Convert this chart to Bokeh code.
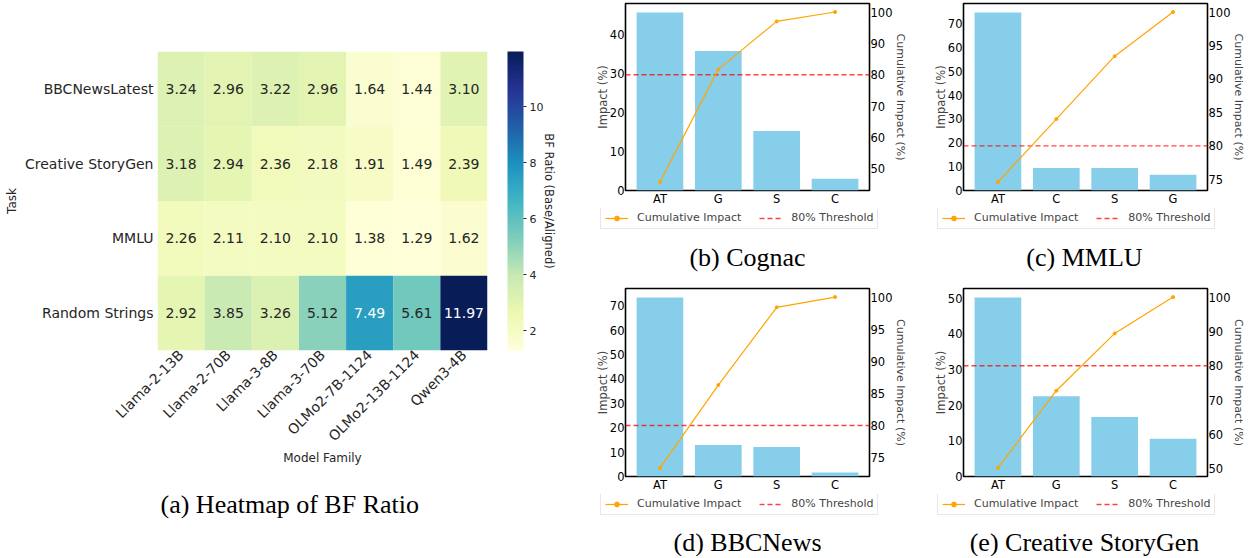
import math
import numpy as np
from bokeh.plotting import figure
from bokeh.layouts import row, column
from bokeh.models import (ColumnDataSource, LinearColorMapper, ColorBar, FixedTicker,
                          SingleIntervalTicker, Range1d, FactorRange, LinearAxis,
                          CategoricalAxis, Legend, LegendItem, Title, Label)
from bokeh.core.properties import value
from bokeh.embed import file_html
from bokeh.resources import INLINE

# ---------------- data ----------------
models = ["Llama-2-13B", "Llama-2-70B", "Llama-3-8B", "Llama-3-70B",
          "OLMo2-7B-1124", "OLMo2-13B-1124", "Qwen3-4B"]
tasks = ["BBCNewsLatest", "Creative StoryGen", "MMLU", "Random Strings"]
bf_bbcnews = [3.24, 2.96, 3.22, 2.96, 1.64, 1.44, 3.10]
bf_storygen = [3.18, 2.94, 2.36, 2.18, 1.91, 1.49, 2.39]
bf_mmlu = [2.26, 2.11, 2.10, 2.10, 1.38, 1.29, 1.62]
bf_random = [2.92, 3.85, 3.26, 5.12, 7.49, 5.61, 11.97]
cbar_ticks = [2, 4, 6, 8, 10]

cognac_factors = ["AT", "G", "S", "C"]
cognac_impact = [45.8, 35.9, 15.3, 3.0]
cognac_cum = [45.8, 81.7, 97.0, 100.0]

mmlu_factors = ["AT", "C", "S", "G"]
mmlu_impact = [74.6, 9.4, 9.4, 6.6]
mmlu_cum = [74.6, 84.0, 93.4, 100.0]

bbc_factors = ["AT", "G", "S", "C"]
bbc_impact = [73.4, 12.9, 12.1, 1.6]
bbc_cum = [73.4, 86.3, 98.4, 100.0]

story_factors = ["AT", "G", "S", "C"]
story_impact = [50.2, 22.5, 16.7, 10.6]
story_cum = [50.2, 72.7, 89.4, 100.0]

threshold = 80

# ---------------- style ----------------
FONT = "DejaVu Sans"
SERIF = "Liberation Serif"
TXT = "#262626"
BAR = "#87ceeb"
LINE = "orange"
YLGNBU = ["#ffffd9", "#edf8b1", "#c7e9b4", "#7fcdbb", "#41b6c4",
          "#1d91c0", "#225ea8", "#253494", "#081d58"]


def build_palette(anchors, n=256):
    rgb = np.array([[int(a[i:i + 2], 16) for i in (1, 3, 5)] for a in anchors], float)
    pos = np.linspace(0, 1, len(anchors))
    t = np.linspace(0, 1, n)
    cols = np.stack([np.interp(t, pos, rgb[:, k]) for k in range(3)], 1)
    return ["#%02x%02x%02x" % tuple(int(round(v)) for v in c) for c in cols]


palette = build_palette(YLGNBU)


def lum(hexc):
    c = [int(hexc[i:i + 2], 16) / 255 for i in (1, 3, 5)]
    c = [v / 12.92 if v <= 0.03928 else ((v + 0.055) / 1.055) ** 2.4 for v in c]
    return 0.2126 * c[0] + 0.7152 * c[1] + 0.0722 * c[2]


# ---------------- heatmap ----------------
rows_vals = [bf_bbcnews, bf_storygen, bf_mmlu, bf_random]
allv = [v for r in rows_vals for v in r]
vmin, vmax = min(allv), max(allv)
mapper = LinearColorMapper(palette=palette, low=vmin, high=vmax)

hx, hy, hv, hl, hc = [], [], [], [], []
for t, vals in zip(tasks, rows_vals):
    for m, v in zip(models, vals):
        hx.append(m)
        hy.append(t)
        hv.append(v)
        hl.append("%.2f" % v)
        idx = int(round((v - vmin) / (vmax - vmin) * (len(palette) - 1)))
        hc.append("white" if lum(palette[idx]) < 0.408 else TXT)
hsrc = ColumnDataSource(dict(model=hx, task=hy, val=hv, label=hl, tcolor=hc))

FA_H = 299
pa = figure(width=575, height=556, x_range=FactorRange(*models),
            y_range=FactorRange(*reversed(tasks)),
            min_border_left=157, min_border_right=88, min_border_top=51, min_border_bottom=206,
            output_backend="svg", toolbar_location=None)
pa.rect(x="model", y="task", width=1, height=1, source=hsrc,
        fill_color={"field": "val", "transform": mapper}, line_color=None)
pa.text(x="model", y="task", text="label", source=hsrc, text_color="tcolor",
        text_align="center", text_baseline="middle", text_font=value(FONT),
        text_font_size="14px")
pa.outline_line_color = None
pa.grid.visible = False

x_ax = pa.below[0]
y_ax = pa.left[0]
# right-hand axis that only carries the colour-bar's label
cb_axis = CategoricalAxis(axis_label="BF Ratio (Base/Aligned)")
pa.add_layout(cb_axis, "right")

for ax in (x_ax, y_ax, cb_axis):
    ax.axis_line_color = None
    ax.major_tick_line_color = None
    ax.minor_tick_line_color = None
    ax.major_tick_out = 0
    ax.major_tick_in = 0
    ax.minor_tick_out = 0
    ax.major_label_text_font = FONT
    ax.major_label_text_font_size = "14px"
    ax.major_label_text_color = TXT
    ax.axis_label_text_font = FONT
    ax.axis_label_text_font_size = "12px"
    ax.axis_label_text_font_style = "normal"
    ax.axis_label_text_color = TXT
x_ax.major_label_orientation = math.pi / 4
x_ax.major_label_standoff = 2
x_ax.axis_label = "Model Family"
x_ax.axis_label_standoff = -2
y_ax.major_label_standoff = 4
y_ax.axis_label = "Task"
y_ax.axis_label_standoff = 3
cb_axis.major_label_text_font_size = "0px"
cb_axis.major_label_text_alpha = 0
cb_axis.major_label_standoff = 0
cb_axis.axis_label_text_font_size = "11.5px"
cb_axis.axis_label_standoff = 54

cb = ColorBar(color_mapper=mapper, ticker=FixedTicker(ticks=cbar_ticks),
              width=16, height=FA_H, location=(350, 0), padding=0, margin=0,
              major_label_text_font=FONT, major_label_text_font_size="11px",
              major_label_text_color=TXT, major_tick_in=0, major_tick_out=3,
              major_tick_line_color=TXT, bar_line_color=None, label_standoff=3,
              background_fill_color=None, border_line_color=None)
pa.add_layout(cb, "center")
pa.add_layout(Title(text="(a) Heatmap of BF Ratio", align="left", offset=3,
                    text_font=SERIF, text_font_size="26px", text_font_style="normal",
                    text_color="black", standoff=40), "below")


# ---------------- pareto panels ----------------
def pareto(factors, impact, cum, right_interval, width, main_h, left, right, top):
    n = len(factors)
    xs = list(range(n))
    xspan = (n - 1) + 0.8
    xlo = -0.4 - 0.05 * xspan
    xhi = (n - 1) + 0.4 + 0.05 * xspan
    ymax = max(impact) * 1.05
    cspan = max(cum) - min(cum)
    clo = min(cum) - 0.05 * cspan
    chi = max(cum) + 0.05 * cspan

    p = figure(width=width, height=main_h, x_range=Range1d(xlo, xhi),
               y_range=Range1d(0, ymax), min_border_left=left, min_border_right=right,
               min_border_top=top, min_border_bottom=15,
               output_backend="svg", toolbar_location=None)
    p.extra_y_ranges = {"cum": Range1d(clo, chi)}
    p.vbar(x=xs, top=impact, width=0.8, color=BAR, line_color=None)
    p.line(x=[xlo, xhi], y=[threshold, threshold], y_range_name="cum",
           line_color="red", line_alpha=0.75, line_dash="5 3", line_width=1.4)
    p.line(x=xs, y=cum, y_range_name="cum", line_color=LINE, line_width=1.2)
    p.scatter(x=xs, y=cum, y_range_name="cum", size=3, color=LINE)

    p.grid.visible = False
    p.outline_line_color = "black"
    p.outline_line_width = 1.6
    p.outline_line_alpha = 1.0

    rax = LinearAxis(y_range_name="cum", ticker=SingleIntervalTicker(interval=right_interval))
    p.add_layout(rax, "right")
    lab = LinearAxis(y_range_name="cum", ticker=FixedTicker(ticks=[]),
                     axis_label="Cumulative Impact (%)")
    p.add_layout(lab, "right")

    bx = p.below[0]
    ly = p.left[0]
    bx.ticker = FixedTicker(ticks=xs)
    bx.major_label_overrides = {i: f for i, f in enumerate(factors)}
    ly.ticker = SingleIntervalTicker(interval=10)
    ly.axis_label = "Impact (%)"
    for ax in (bx, ly, rax, lab):
        ax.axis_line_color = None
        ax.major_tick_out = 0
        ax.major_tick_in = 0
        ax.minor_tick_out = 0
        ax.minor_tick_line_color = None
        ax.major_label_text_font = FONT
        ax.major_label_text_font_size = "11.5px"
        ax.major_label_text_color = "black"
        ax.major_label_standoff = 1
        ax.axis_label_text_font = FONT
        ax.axis_label_text_font_size = "11.5px"
        ax.axis_label_text_font_style = "normal"
        ax.axis_label_standoff = -3
    lab.major_label_text_font_size = "0px"
    lab.major_label_standoff = 0
    lab.axis_label_text_font_size = "11px"
    lab.axis_label_standoff = -2
    return p


def footer(width, height, legends, captions):
    # one wide strip under a row of panels: legends and sub-captions
    f = figure(width=width, height=height, x_range=Range1d(0, width),
               y_range=Range1d(height, 0), x_axis_type=None, y_axis_type=None,
               min_border_left=0, min_border_right=0, min_border_top=0,
               min_border_bottom=0, output_backend="svg", toolbar_location=None)
    f.outline_line_color = None
    f.grid.visible = False
    nan = np.array([np.nan])
    for lx in legends:
        lc = f.line(x=nan, y=nan, line_color=LINE, line_width=1.2)
        ls = f.scatter(x=nan, y=nan, size=3, color=LINE)
        lt = f.line(x=nan, y=nan, line_color="red", line_alpha=0.75, line_dash="5 3",
                    line_width=1.4)
        leg = Legend(items=[LegendItem(label="Cumulative Impact", renderers=[lc, ls]),
                            LegendItem(label="80% Threshold", renderers=[lt])],
                     orientation="horizontal", location=(lx, height - 21),
                     label_text_font=FONT, label_text_font_size="11px",
                     glyph_width=23, glyph_height=12, label_height=12, label_standoff=9,
                     spacing=18, padding=4, margin=0, border_line_color="#d0d0d0",
                     border_line_width=1, background_fill_alpha=0.8)
        f.add_layout(leg, "center")
    for cx, cy, txt in captions:
        f.add_layout(Label(x=cx, y=cy, text=txt, text_align="center",
                           text_baseline="middle", text_font=SERIF,
                           text_font_size="26px", text_color="black"))
    return f


pb = pareto(cognac_factors, cognac_impact, cognac_cum, 10, 340, 208, 50, 46, 3)
pc = pareto(mmlu_factors, mmlu_impact, mmlu_cum, 5, 333, 208, 48, 41, 3)
pd_ = pareto(bbc_factors, bbc_impact, bbc_cum, 5, 340, 214, 50, 46, 8)
pe = pareto(story_factors, story_impact, story_cum, 10, 333, 214, 48, 41, 8)

foot_top = footer(673, 72, [25, 362], [(172, 49, "(b) Cognac"), (509, 49, "(c) MMLU")])
foot_bot = footer(673, 62, [25, 362],
                  [(172, 48, "(d) BBCNews"), (509, 48, "(e) Creative StoryGen")])

layout = row(pa, column(row(pb, pc), foot_top, row(pd_, pe), foot_bot))
open("out.html", "w").write(file_html(layout, INLINE))
